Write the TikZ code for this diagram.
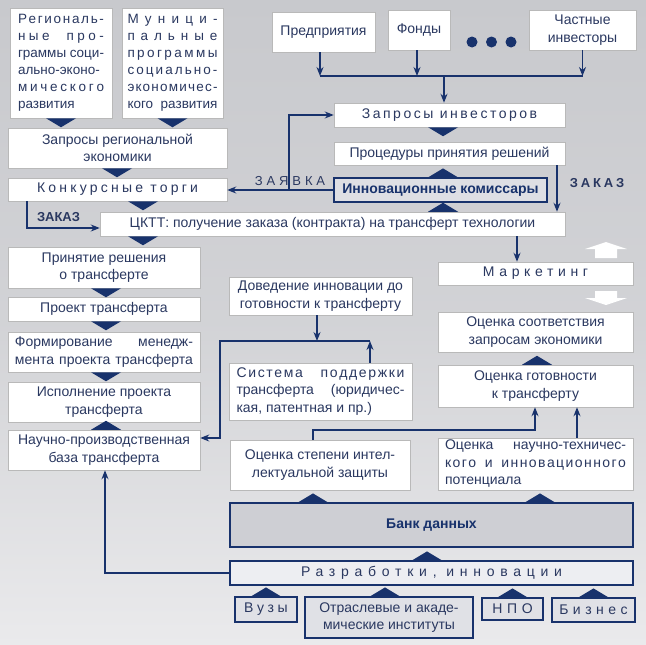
\documentclass[tikz,border=0pt]{standalone}
\usepackage{fontspec}
\setmainfont{Liberation Sans}
\usetikzlibrary{arrows.meta,calc}
\definecolor{navy}{RGB}{24,50,108}
\definecolor{txt}{RGB}{42,56,96}
\definecolor{bgtop}{RGB}{200,201,205}
\definecolor{bgbot}{RGB}{234,234,236}
\definecolor{komfill}{RGB}{222,223,228}
\definecolor{bankfill}{RGB}{206,207,212}
\definecolor{razrfill}{RGB}{237,238,242}
\definecolor{smallfill}{RGB}{224,225,230}
\def\spreadend{SPREADEND}
\def\Q{\hskip 3pt plus 2fil\relax}
\def\spreadit#1{\spreadA#1\spreadend}
\def\spreadA#1{#1\spreadB}
\def\spreadB#1{\ifx#1\spreadend\else\hfil#1\expandafter\spreadB\fi}
\newcommand\LS[2]{\hbox to #1{\spreadit{#2}}}
\newcommand\WS[2]{\hbox to #1{#2}}
\newcommand\LL[2]{\hbox to #1{#2\hfil}}
\newcommand\fsz{\fontsize{14}{17.5}\selectfont}
\newcommand\fszs{\fontsize{13.5}{17}\selectfont}
\newcommand\tdown[1]{\fill[navy] #1 ++(-15,0) -- ++(30,0) -- ++(-15,9) -- cycle;}
\newcommand\tup[1]{\fill[navy] #1 ++(-15,0) -- ++(30,0) -- ++(-15,-9) -- cycle;}
\tikzset{
  wh/.style 2 args={minimum width=#1pt,minimum height=#2pt},
  wbox/.style={draw=gray!55, line width=0.5pt, fill=white, inner sep=0pt, text=txt, font=\fsz, align=center},
  nbox/.style={draw=navy, line width=1.2pt, inner sep=0pt, text=txt, font=\fsz, align=center},
  ls/.style={font=\fsz\addfontfeatures{LetterSpace=#1}},
  arr/.style={draw=navy, line width=1.4pt, -{Stealth[length=9pt,width=7pt]}},
  ln/.style={draw=navy, line width=1.4pt},
  lbl/.style={text=txt, inner sep=0pt, font=\fontsize{13}{15}\selectfont\addfontfeatures{LetterSpace=#1}},
}
\begin{document}
\begin{tikzpicture}[x=1pt,y=-1pt]
\useasboundingbox (0,0) rectangle (646,645);
\shade[top color=bgtop, bottom color=bgbot, middle color=bgtop!70!bgbot] (0,0) rectangle (646,645);

% top-left
\node[wbox,wh={102}{110},align=left,font=\fszs] (reg) at (61,63) {%
\LS{86pt}{Региональ-}\\
\LS{86pt}{ные\Q про-}\\
\WS{86pt}{граммы соци-}\\
\WS{86pt}{ально-эконо-}\\
\LS{86pt}{мического}\\
\LL{86pt}{развития}};
\node[wbox,wh={101}{110},align=left,font=\fszs] (mun) at (172.5,63) {%
\LS{90pt}{Муници-}\\
\LS{90pt}{пальные}\\
\LS{90pt}{программы}\\
\LS{90pt}{социально-}\\
\LS{90pt}{экономичес-}\\
\WS{90pt}{кого развития}};
\node[wbox,wh={219}{40}] (zre) at (117.5,148) {Запросы региональной\\экономики};
\node[wbox,wh={219}{23},ls=23] (kt) at (117.5,189.5) {Конкурсные торги};

% top-right
\node[wbox,wh={103}{40}] (pred) at (323.5,32) {Предприятия};
\node[wbox,wh={62}{40}] (fond) at (419,30) {Фонды};
\node[wbox,wh={107}{40}] (chast) at (582.5,30) {Частные\\инвесторы};
\fill[navy] (472,42) circle (5.5) (491.5,42) circle (5.5) (511,42) circle (5.5);
\node[wbox,wh={231}{24},ls=18] (zinv) at (449.5,115) {Запросы инвесторов};
\node[wbox,wh={231}{23}] (proc) at (449.5,153.5) {Процедуры принятия решений};
\node[nbox,wh={213}{24},fill=komfill,text=navy,font=\fsz\bfseries] (kom) at (440.5,190) {Инновационные комиссары};
\node[wbox,wh={465}{24}] (cktt) at (332.5,224) {ЦКТТ: получение заказа (контракта) на трансферт технологии};

% left column
\node[wbox,wh={192}{41}] (prin) at (104,267.5) {Принятие решения\\о трансферте};
\node[wbox,wh={192}{24}] (proekt) at (104,309) {Проект трансферта};
\node[wbox,wh={192}{40},align=left] (form) at (104,352) {%
\WS{178pt}{Формирование менедж-}\\
\WS{178pt}{мента проекта трансферта}};
\node[wbox,wh={192}{40}] (isp) at (104,402) {Исполнение проекта\\трансферта};
\node[wbox,wh={192}{40}] (nauch) at (104,450) {Научно-производственная\\база трансферта};

% middle column
\node[wbox,wh={183}{38}] (dov) at (320.5,296) {Доведение инновации до\\готовности к трансферту};
\node[wbox,wh={183}{57},align=left] (sist) at (320.5,391.5) {%
\LS{168pt}{Система\Q\Q поддержки}\\
\WS{168pt}{трансферта (юридичес-}\\
\LL{168pt}{кая, патентная и пр.)}};
\node[wbox,wh={180}{50}] (ocst) at (320,465) {Оценка степени интел-\\лектуальной защиты};

% right column
\node[wbox,wh={195}{23},ls=33] (mark) at (535.5,273.5) {Маркетинг};
\node[wbox,wh={195}{40}] (ocsoot) at (535.5,332) {Оценка соответствия\\запросам экономики};
\node[wbox,wh={195}{42}] (ocgot) at (535.5,386) {Оценка готовности\\к трансферту};
\node[wbox,wh={195}{52},align=left] (ocnauch) at (535.5,464) {%
\WS{181pt}{Оценка научно-техничес-}\\
\LS{181pt}{кого\Q и\Q инновационного}\\
\LL{181pt}{потенциала}};

% bottom
\node[nbox,wh={403}{44},fill=bankfill,text=navy,font=\fsz\bfseries] (bank) at (431.5,525) {Банк данных};
\node[nbox,wh={403}{24},fill=razrfill,ls=41] (razr) at (431.5,573) {Разработки, инновации};
\node[nbox,wh={62}{25},fill=smallfill,ls=26] (vuz) at (266,609.5) {Вузы};
\node[nbox,wh={168}{41},fill=smallfill] (otr) at (389,617.5) {Отраслевые и акаде-\\мические институты};
\node[nbox,wh={61}{22},fill=smallfill,ls=33] (npo) at (512.5,609) {НПО};
\node[nbox,wh={83}{24},fill=smallfill,ls=32] (biz) at (593.5,610) {Бизнес};

% white block arrows beside Маркетинг
\fill[white] (595,258) -- (595,249) -- (585,249) -- (606,242) -- (627,249) -- (617,249) -- (617,258) -- cycle;
\fill[white] (595,291) -- (617,291) -- (617,298) -- (627,298) -- (606,305) -- (585,298) -- (595,298) -- cycle;

% chevrons
\tdown{(reg.south)}
\tdown{(mun.south)}
\tdown{(117,0 |- zre.south)}
\tdown{(143,0 |- kt.south)}
\tdown{(143,0 |- cktt.south)}
\tdown{(106,0 |- prin.south)}
\tdown{(106,0 |- proekt.south)}
\tdown{(106,0 |- form.south)}
\tup{(106,0 |- nauch.north)}
\tdown{(443,0 |- zinv.south)}
\tup{(443,0 |- kom.north)}
\tup{(443,0 |- cktt.north)}
\tup{(537,0 |- ocgot.north)}
\tup{(313,0 |- bank.north)}
\tup{(540,0 |- bank.north)}
\tup{(427,0 |- razr.north)}
\tup{(vuz.north)}
\tup{(385,0 |- otr.north)}
\tup{(npo.north)}
\tup{(biz.north)}

% investor bus
\coordinate (bus) at (0,76);
\draw[arr] (320,0 |- pred.south) -- (320,0 |- bus);
\draw[arr] (417,0 |- fond.south) -- (417,0 |- bus);
\draw[arr] (chast.south) -- (chast.south |- bus);
\draw[ln] (320,0 |- bus) -- (chast.south |- bus);
\draw[arr] (444,0 |- bus) -- (444,0 |- zinv.north);

% ЗАЯВКА
\coordinate (zj) at (289,190);
\draw[arr] (kom.west) -- (kom.west -| kt.east);
\draw[arr] (zj) |- (zinv.west);
\node[lbl=30] (zajavka) at (290,181) {ЗАЯВКА};

% ЗАКАЗ right
\draw[arr] (557,0 |- proc.south) -- (557,0 |- cktt.north);
\node[lbl=25,font=\fontsize{13}{15}\selectfont\bfseries\addfontfeatures{LetterSpace=22}] (zakazr) at (597,183) {ЗАКАЗ};

% ЗАКАЗ left
\draw[arr] (27,0 |- kt.south) |- (cktt.west |- 0,228);
\node[lbl=0,font=\fontsize{13}{15}\selectfont\bfseries] (zakazl) at (58.5,217) {ЗАКАЗ};

% ЦКТТ -> Маркетинг
\draw[arr] (517,0 |- cktt.south) -- (517,0 |- mark.north);

% Доведение / Система -> база
\coordinate (b2) at (0,341);
\draw[arr] (317,0 |- dov.south) -- (317,0 |- b2);
\draw[arr] (370,0 |- sist.north) -- (370,0 |- b2);
\draw[arr] (370,0 |- b2) -- (220,0 |- b2) -- (220,438) -- (nauch.east |- 0,438);

% Оценка степени -> Оценка готовности
\draw[arr] (313,0 |- ocst.north) -- (313,430) -- (535,430) -- (535,0 |- ocgot.south);
\draw[arr] (577,0 |- ocnauch.north) -- (577,0 |- ocgot.south);

% Разработки -> база
\draw[arr] (razr.west) -- (105,0 |- razr.west) -- (105,0 |- nauch.south);
\end{tikzpicture}
\end{document}
